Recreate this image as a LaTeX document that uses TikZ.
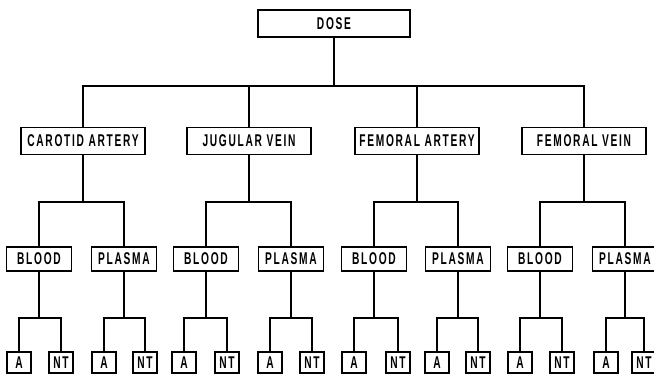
\documentclass[tikz,border=0pt]{standalone}
\usepackage{fontspec}
\setmainfont{Liberation Sans}[FakeStretch=0.6, LetterSpace=10]
\begin{document}
\begin{tikzpicture}[
    x=1pt, y=-1pt,
    box/.style={rectangle, draw, line width=1.6pt, inner sep=0pt, align=center, font=\fontsize{17}{18}\selectfont\bfseries},
    top/.style={box, minimum width=152pt, minimum height=27pt},
    site/.style={box, minimum width=124pt, minimum height=27pt},
    fluid/.style={box, minimum width=65pt, minimum height=24pt},
    leaf/.style={box, minimum width=24pt, minimum height=21pt},
    link/.style={line width=1.6pt}
]
    \useasboundingbox (0,0) rectangle (654,387);

    \node (dose) at (334, 23.5) [top] {DOSE};

    \node (carotid) at (83, 141) [site] {CAROTID ARTERY};
    \node (jugular) at (249, 141) [site] {JUGULAR VEIN};
    \node (femart) at (417, 141) [site] {FEMORAL ARTERY};
    \node (femvein) at (584, 141) [site] {FEMORAL VEIN};

    \node (blood1) at (39, 259) [fluid] {BLOOD};
    \node (plasma1) at (124, 259) [fluid] {PLASMA};
    \node (blood2) at (206, 259) [fluid] {BLOOD};
    \node (plasma2) at (291, 259) [fluid] {PLASMA};
    \node (blood3) at (374, 259) [fluid] {BLOOD};
    \node (plasma3) at (458, 259) [fluid] {PLASMA};
    \node (blood4) at (540, 259) [fluid] {BLOOD};
    \node (plasma4) at (625, 259) [fluid] {PLASMA};

    \node (a1) at (19, 362.5) [leaf] {A};
    \node (nt1) at (61, 362.5) [leaf] {NT};
    \node (a2) at (104, 362.5) [leaf] {A};
    \node (nt2) at (145, 362.5) [leaf] {NT};
    \node (a3) at (184, 362.5) [leaf] {A};
    \node (nt3) at (227, 362.5) [leaf] {NT};
    \node (a4) at (270, 362.5) [leaf] {A};
    \node (nt4) at (312, 362.5) [leaf] {NT};
    \node (a5) at (354, 362.5) [leaf] {A};
    \node (nt5) at (398, 362.5) [leaf] {NT};
    \node (a6) at (437, 362.5) [leaf] {A};
    \node (nt6) at (478, 362.5) [leaf] {NT};
    \node (a7) at (520, 362.5) [leaf] {A};
    \node (nt7) at (562, 362.5) [leaf] {NT};
    \node (a8) at (606, 362.5) [leaf] {A};
    \node (nt8) at (644, 362.5) [leaf] {NT};

    % dose to sites
    \draw[link] (dose.south) -- ++(0,48) -| (carotid.north);
    \draw[link] (dose.south) -- ++(0,48) -| (jugular.north);
    \draw[link] (dose.south) -- ++(0,48) -| (femart.north);
    \draw[link] (dose.south) -- ++(0,48) -| (femvein.north);

    % sites to fluids
    \draw[link] (carotid.south) -- ++(0,47) -| (blood1.north);
    \draw[link] (carotid.south) -- ++(0,47) -| (plasma1.north);
    \draw[link] (jugular.south) -- ++(0,47) -| (blood2.north);
    \draw[link] (jugular.south) -- ++(0,47) -| (plasma2.north);
    \draw[link] (femart.south) -- ++(0,47) -| (blood3.north);
    \draw[link] (femart.south) -- ++(0,47) -| (plasma3.north);
    \draw[link] (femvein.south) -- ++(0,47) -| (blood4.north);
    \draw[link] (femvein.south) -- ++(0,47) -| (plasma4.north);

    % fluids to assays
    \draw[link] (blood1.south) -- ++(0,46) -| (a1.north);
    \draw[link] (blood1.south) -- ++(0,46) -| (nt1.north);
    \draw[link] (plasma1.south) -- ++(0,46) -| (a2.north);
    \draw[link] (plasma1.south) -- ++(0,46) -| (nt2.north);
    \draw[link] (blood2.south) -- ++(0,46) -| (a3.north);
    \draw[link] (blood2.south) -- ++(0,46) -| (nt3.north);
    \draw[link] (plasma2.south) -- ++(0,46) -| (a4.north);
    \draw[link] (plasma2.south) -- ++(0,46) -| (nt4.north);
    \draw[link] (blood3.south) -- ++(0,46) -| (a5.north);
    \draw[link] (blood3.south) -- ++(0,46) -| (nt5.north);
    \draw[link] (plasma3.south) -- ++(0,46) -| (a6.north);
    \draw[link] (plasma3.south) -- ++(0,46) -| (nt6.north);
    \draw[link] (blood4.south) -- ++(0,46) -| (a7.north);
    \draw[link] (blood4.south) -- ++(0,46) -| (nt7.north);
    \draw[link] (plasma4.south) -- ++(0,46) -| (a8.north);
    \draw[link] (plasma4.south) -- ++(0,46) -| (nt8.north);

\end{tikzpicture}
\end{document}
